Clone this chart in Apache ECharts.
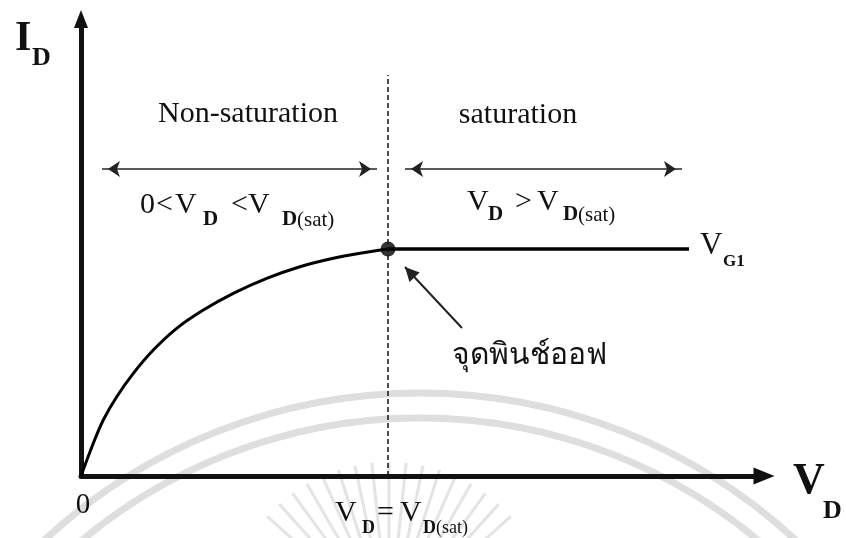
<!DOCTYPE html>
<html style="height: 100%">
<head>
    <meta charset="utf-8">
    <title>id-vd</title>
    <script type="text/javascript" src="https://cdn.jsdelivr.net/npm/echarts@6/dist/echarts.min.js"></script>
    <style>
        html, body { margin: 0; padding: 0; background: #fff; }
        #main { width: 846px; height: 538px; }
    </style>
</head>
<body>
<div id="main"></div>
<script type="text/javascript">
    // V_D / I_D (arbitrary units, axes 0..10)
    var curveVd = [0, 0.18, 0.326, 0.523, 0.766, 1.059, 1.401, 1.791, 2.23, 2.719, 3.206, 3.694, 4.085, 4.495];
    var curveId = [0, 0.716, 1.225, 1.735, 2.247, 2.757, 3.232, 3.632, 3.998, 4.326, 4.58, 4.764, 4.873, 4.967];
    var plateauVd = [4.495, 8.902];
    var plateauId = [4.967, 4.967];
    var vdSat = 4.495;          // pinch-off point
    var idSat = 4.967;
    var dashTop = 8.775;        // top of the dashed line
    var arrowLevel = 6.718;     // height of the two range arrows
    var leftRange = [0.307, 4.334];
    var rightRange = [4.744, 8.799];
    var pointerFrom = [5.578, 3.239];
    var pointerTo = [4.744, 4.573];

    var chart = echarts.init(document.getElementById('main'));

    var serif = "'Liberation Serif', 'Times New Roman', serif";
    function txt(s, x, y, size, weight, align, family) {
        return {
            type: 'text', z: 50,
            style: {
                text: s, x: x, y: y,
                fontSize: size, fontWeight: weight || 'normal',
                fontFamily: family || serif,
                fill: '#111',
                textAlign: align || 'left',
                textVerticalAlign: 'middle'
            }
        };
    }

    // faint watermark behind the chart
    var marks = [
        { type: 'circle', z: -10, shape: { cx: 420, cy: 946, r: 553 }, style: { fill: 'none', stroke: '#dedede', lineWidth: 7 } },
        { type: 'circle', z: -10, shape: { cx: 420, cy: 946, r: 528 }, style: { fill: 'none', stroke: '#dedede', lineWidth: 7 } }
    ];
    for (var a = -48; a <= 48; a += 6) {
        var r = a * Math.PI / 180;
        marks.push({
            type: 'line', z: -10,
            shape: { x1: 389 + 80 * Math.sin(r), y1: 626 - 80 * Math.cos(r), x2: 389 + 164 * Math.sin(r), y2: 626 - 164 * Math.cos(r) },
            style: { stroke: '#e4e4e4', lineWidth: 3 }
        });
    }

    var labels = [
        txt('I', 15, 39, 42, 'bold'),
        txt('D', 32, 58, 26, 'bold'),
        txt('V', 793, 482, 44, 'bold'),
        txt('D', 823, 511, 26, 'bold'),
        txt('0', 83, 505, 29, 'normal', 'center'),
        txt('Non-saturation', 248, 114, 30, 'normal', 'center'),
        txt('saturation', 518, 115, 30, 'normal', 'center'),

        txt('0', 140, 205, 30), txt('<', 156, 205, 30), txt('V', 175, 205, 30),
        txt('D', 203, 220, 21, 'bold'), txt('<', 231, 205, 30), txt('V', 248, 205, 30),
        txt('D', 282, 220, 21, 'bold'), txt('(sat)', 297, 220, 21),

        txt('V', 467, 202, 30), txt('D', 488, 215, 21, 'bold'), txt('>', 515, 202, 30),
        txt('V', 537, 202, 30), txt('D', 563, 215, 21, 'bold'), txt('(sat)', 578, 215, 21),

        txt('V', 335, 513, 30), txt('D', 362, 528, 18, 'bold'), txt('=', 377, 513, 30),
        txt('V', 400, 513, 30), txt('D', 423, 528, 18, 'bold'), txt('(sat)', 436, 528, 18),

        txt('V', 700, 246, 31), txt('G1', 723, 262, 17, 'bold'),
        txt('จุดพินช์ออฟ', 452, 355, 30, 'normal', 'left', "'Noto Sans', 'DejaVu Sans', sans-serif")
    ];

    var option = {
        animation: false,
        backgroundColor: '#fff',
        grid: { left: 81, right: 82, top: 19, bottom: 62 },
        xAxis: {
            type: 'value', min: 0, max: 10,
            axisLine: {
                onZero: false,
                symbol: ['none', 'triangle'], symbolSize: [17, 21],
                lineStyle: { color: '#111', width: 5 }
            },
            axisTick: { show: false }, axisLabel: { show: false }, splitLine: { show: false }
        },
        yAxis: {
            type: 'value', min: 0, max: 10,
            axisLine: {
                show: true, onZero: false,
                symbol: ['none', 'triangle'], symbolSize: [14, 18],
                lineStyle: { color: '#111', width: 5 }
            },
            axisTick: { show: false }, axisLabel: { show: false }, splitLine: { show: false }
        },
        graphic: marks.concat(labels),
        series: [
            {
                name: 'VG1', type: 'line', smooth: 0.3, showSymbol: false,
                lineStyle: { color: '#000', width: 3 },
                data: curveVd.map(function (v, i) { return [v, curveId[i]]; })
            },
            {
                name: 'plateau', type: 'line', showSymbol: false,
                lineStyle: { color: '#000', width: 3.5 },
                data: plateauVd.map(function (v, i) { return [v, plateauId[i]]; }),
                markLine: {
                    silent: true, symbol: ['none', 'none'], label: { show: false },
                    lineStyle: { color: '#111', width: 1.5, type: [5, 3] },
                    data: [[{ coord: [vdSat, 0] }, { coord: [vdSat, dashTop] }]]
                }
            },
            {
                name: 'ranges', type: 'line', data: [], 
                markLine: {
                    silent: true, symbol: ['arrow', 'arrow'], symbolSize: 12,
                    symbolOffset: [[0, 6], [0, 6]],
                    label: { show: false },
                    lineStyle: { color: '#222', width: 1.5, type: 'solid' },
                    data: [
                        [{ coord: [leftRange[0], arrowLevel] }, { coord: [leftRange[1], arrowLevel] }],
                        [{ coord: [rightRange[0], arrowLevel] }, { coord: [rightRange[1], arrowLevel] }]
                    ]
                }
            },
            {
                name: 'pointer', type: 'line', data: [],
                markLine: {
                    silent: true, symbol: ['none', 'triangle'], symbolSize: 14,
                    symbolOffset: [0, [0, 7]],
                    label: { show: false },
                    lineStyle: { color: '#222', width: 2, type: 'solid' },
                    data: [[{ coord: pointerFrom }, { coord: pointerTo }]]
                }
            },
            {
                name: 'pinch-off', type: 'scatter', symbolSize: 15,
                itemStyle: { color: '#000' },
                data: [[vdSat, idSat]]
            }
        ]
    };

    chart.setOption(option);
</script>
</body>
</html>
